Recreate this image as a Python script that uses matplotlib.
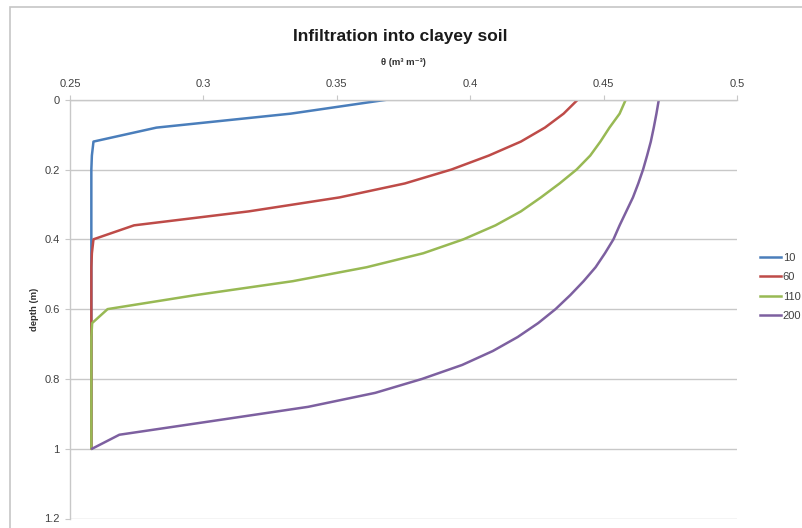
import matplotlib
matplotlib.use('Agg')
import matplotlib.pyplot as plt
from matplotlib.patches import Rectangle

plt.rcParams['font.family'] = ['Liberation Sans', 'DejaVu Sans']

# depth below surface (m), one node every 0.04 m
depth = [0.00, 0.04, 0.08, 0.12, 0.16, 0.20, 0.24, 0.28, 0.32, 0.36,
         0.40, 0.44, 0.48, 0.52, 0.56, 0.60, 0.64, 0.68, 0.72, 0.76,
         0.80, 0.84, 0.88, 0.92, 0.96, 1.00]

# water content profiles (m3 m-3) after each time
theta_10 = [0.3687, 0.3327, 0.2824, 0.2588, 0.2582, 0.258, 0.258, 0.258, 0.258, 0.258,
            0.258, 0.258, 0.258, 0.258, 0.258, 0.258, 0.258, 0.258, 0.258, 0.258,
            0.258, 0.258, 0.258, 0.258, 0.258, 0.258]
theta_60 = [0.4403, 0.4350, 0.4280, 0.4190, 0.4070, 0.3930, 0.3755, 0.3510, 0.3170, 0.2740,
            0.2588, 0.2582, 0.258, 0.258, 0.258, 0.258, 0.258, 0.258, 0.258, 0.258,
            0.258, 0.258, 0.258, 0.258, 0.258, 0.258]
theta_110 = [0.4583, 0.4560, 0.4522, 0.4488, 0.4450, 0.4399, 0.4335, 0.4265, 0.4190, 0.4095,
             0.3975, 0.3824, 0.3612, 0.3335, 0.2970, 0.2641, 0.2583, 0.258, 0.258, 0.258,
             0.258, 0.258, 0.258, 0.258, 0.258, 0.258]
theta_200 = [0.4707, 0.4698, 0.4688, 0.4677, 0.4663, 0.4648, 0.4630, 0.4610, 0.4585, 0.4560,
             0.4537, 0.4505, 0.4470, 0.4425, 0.4375, 0.4320, 0.4255, 0.4178, 0.4085, 0.3970,
             0.3820, 0.3644, 0.3393, 0.3040, 0.2685, 0.2583]

series_names = ['10', '60', '110', '200']
series_colors = ['#4a7ebb', '#be4b48', '#98b954', '#7d60a0']

x_ticks = [0.25, 0.3, 0.35, 0.4, 0.45, 0.5]
x_ticklabels = ['0.25', '0.3', '0.35', '0.4', '0.45', '0.5']
y_ticks = [0, 0.2, 0.4, 0.6, 0.8, 1.0, 1.2]
y_ticklabels = ['0', '0.2', '0.4', '0.6', '0.8', '1', '1.2']

W, H = 803, 528
fig = plt.figure(figsize=(W / 100, H / 100), dpi=100)

# chart area border
fig.patches.append(Rectangle((10 / W, -0.05), 1.1, 1.05 - 7 / H,
                             transform=fig.transFigure, fill=False,
                             edgecolor='#c6c6c6', linewidth=1.2))

ax = fig.add_axes([70 / W, 1 - 518.5 / H, (737 - 70) / W, (518.5 - 99.7) / H])

for vals, name, col in zip([theta_10, theta_60, theta_110, theta_200],
                           series_names, series_colors):
    ax.plot(vals, depth, color=col, lw=1.8, label=name, solid_joinstyle='round')

ax.set_xlim(0.25, 0.5)
ax.set_ylim(1.2, 0)

grid_col = '#c8c8c8'
ax.xaxis.tick_top()
ax.xaxis.set_label_position('top')
ax.set_xticks(x_ticks)
ax.set_xticklabels(x_ticklabels)
ax.set_yticks(y_ticks)
ax.set_yticklabels(y_ticklabels)
ax.tick_params(axis='both', direction='out', length=3.5, width=0.8, color=grid_col,
               labelsize=8, labelcolor='#404040')
ax.tick_params(axis='x', pad=4)
ax.tick_params(axis='y', pad=4)

ax.grid(axis='y', color=grid_col, lw=1.0)
ax.set_axisbelow(True)
for s in ['right', 'bottom']:
    ax.spines[s].set_visible(False)
for s in ['left', 'top']:
    ax.spines[s].set_color(grid_col)
    ax.spines[s].set_linewidth(1.0)

ax.set_xlabel('θ (m³ m⁻³)', fontsize=6.8, fontweight='bold', color='#303030',
              labelpad=10)
ax.set_ylabel('depth (m)', fontsize=6.8, fontweight='bold', color='#303030',
              labelpad=4)

fig.text(400 / W, 1 - 37 / H, 'Infiltration into clayey soil', ha='center',
         va='center', fontsize=12.5, fontweight='bold', color='#1a1a1a')

fig.legend(loc='center left', bbox_to_anchor=(760 / W, 1 - 287 / H), frameon=False,
           fontsize=8, handlelength=1.9, handletextpad=0.15, labelspacing=0.85,
           borderaxespad=0, borderpad=0, labelcolor='#404040')

fig.savefig('out.png', dpi=100)
